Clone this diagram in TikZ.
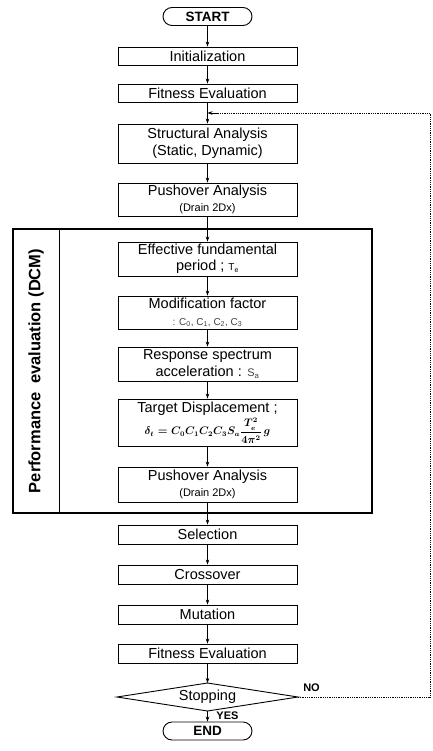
\documentclass[tikz,border=0pt]{standalone}
\usepackage{fontspec}
\setmainfont{Liberation Sans}
\usepackage{amsmath}
\usetikzlibrary{arrows.meta}
\begin{document}
\begin{tikzpicture}[x=1pt,y=-1pt,
  box/.style={draw, line width=0.9pt, minimum width=179pt, inner sep=0pt, align=center, font=\fontsize{14.5}{16.5}\selectfont},
  term/.style={draw, line width=0.9pt, rounded corners=9pt, minimum width=89pt, minimum height=18pt, inner sep=0pt, font=\bfseries\fontsize{13.5}{15}\selectfont},
  arr/.style={-{Stealth[length=5pt,width=3.6pt]}, line width=0.7pt},
  loopline/.style={densely dotted, line width=0.8pt},
  lab/.style={font=\bfseries\fontsize{11}{13}\selectfont, inner sep=0pt}]
\useasboundingbox (0,0) rectangle (432,751);
% DCM frame
\node[draw, line width=1.8pt, minimum width=359pt, minimum height=284pt, inner sep=0pt] (dcm) at (192.5,371) {};
\coordinate (divT) at (59,229);
\coordinate (divB) at (59,513);
\draw[line width=0.8pt] (divT) -- (divB);
\node[rotate=90, font=\bfseries\fontsize{16.5}{18}\selectfont, inner sep=0pt] (dcmlabel) at (36,371) {Performance\hspace{0.25em} evaluation (DCM)};
% nodes
\node[term] (start) at (207.5,16.5) {START};
\node[box, minimum height=18pt] (init) at (207.5,56) {Initialization};
\node[box, minimum height=18pt] (fit1) at (207.5,93) {Fitness Evaluation};
\node[box, minimum height=39pt] (struct) at (207.5,143.5) {Structural Analysis\\(Static, Dynamic)};
\node[box, minimum height=33pt] (push1) at (207.5,199.5) {Pushover Analysis\\{\fontsize{11}{13}\selectfont(Drain 2Dx)}};
\node[box, minimum height=34pt] (eff) at (207.5,259) {Effective fundamental\\period ; {\fontsize{10}{12}\selectfont T\textsubscript{e}}};
\node[box, minimum height=33pt] (mod) at (207.5,312.5) {Modification factor\\{\fontsize{10}{12}\selectfont\color{black!75}: C\textsubscript{0}, C\textsubscript{1}, C\textsubscript{2}, C\textsubscript{3}}};
\node[box, minimum height=34pt] (resp) at (207.5,364) {Response spectrum\\acceleration : {\fontsize{11}{12}\selectfont\color{black!75}S\textsubscript{a}}};
\node[box, minimum height=47pt] (target) at (207.5,422.5) {Target Displacement ;\\[2pt]{\fontsize{10.5}{12}\selectfont$\boldsymbol{\delta_t = C_0C_1C_2C_3S_a\dfrac{T_e^2}{4\pi^2}\,g}$}};
\node[box, minimum height=35pt] (push2) at (207.5,484.5) {Pushover Analysis\\{\fontsize{11}{13}\selectfont(Drain 2Dx)}};
\node[box, minimum height=19pt] (sel) at (207.5,534.5) {Selection};
\node[box, minimum height=19pt] (cross) at (207.5,574.5) {Crossover};
\node[box, minimum height=19pt] (mut) at (207.5,614.5) {Mutation};
\node[box, minimum height=19pt] (fit2) at (207.5,653.5) {Fitness Evaluation};
\node[font=\fontsize{14.5}{16.5}\selectfont, inner sep=0pt] (stop) at (207.5,697) {Stopping};
\coordinate (stopW) at (117,697);
\coordinate (stopE) at (298,697);
\coordinate (stopN) at (207.5,683);
\coordinate (stopS) at (207.5,711);
\draw[line width=0.9pt] (stopW) -- (stopN) -- (stopE) -- (stopS) -- cycle;
\node[term] (end) at (207.5,731) {END};
% labels
\node[lab] (no) at (311.5,688) {NO};
\node[lab] (yes) at (227.5,716) {YES};
% arrows
\draw[arr] (start) -- (init);
\draw[arr] (init) -- (fit1);
\draw[arr] (fit1) -- (struct);
\draw[arr] (struct) -- (push1);
\draw[arr] (push1) -- (eff);
\draw[arr] (eff) -- (mod);
\draw[arr] (mod) -- (resp);
\draw[arr] (resp) -- (target);
\draw[arr] (target) -- (push2);
\draw[arr] (push2) -- (sel);
\draw[arr] (sel) -- (cross);
\draw[arr] (cross) -- (mut);
\draw[arr] (mut) -- (fit2);
\draw[arr] (fit2) -- (stopN);
\draw[arr] (stopS) -- (end);
% loop back
\coordinate (join) at (207.5,113);
\coordinate (joinA) at (217,113);
\coordinate (loopR) at (430,697);
\coordinate (loopT) at (430,113);
\draw[loopline] (stopE) -- (loopR) -- (loopT) -- (joinA);
\draw[arr] (joinA) -- (join);
\end{tikzpicture}
\end{document}
